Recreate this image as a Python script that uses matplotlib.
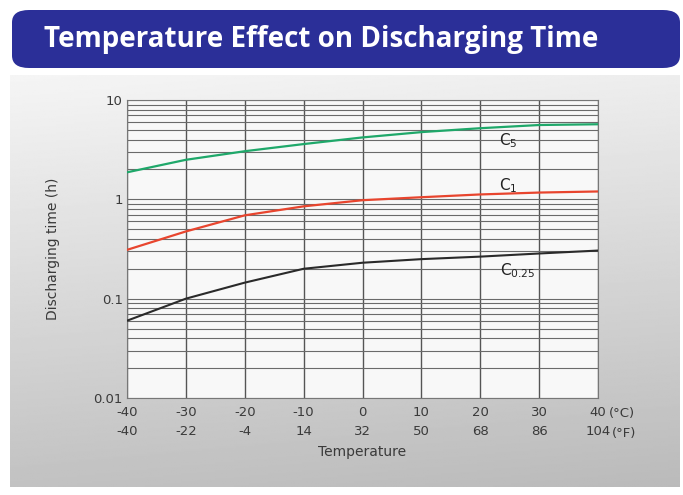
import matplotlib
matplotlib.use("Agg")
import matplotlib.pyplot as plt
import numpy as np
from matplotlib.patches import FancyBboxPatch
from matplotlib.ticker import LogLocator, NullFormatter

# Data
temp_c = [-40, -30, -20, -10, 0, 10, 20, 30, 40]
temp_f = [-40, -22, -4, 14, 32, 50, 68, 86, 104]
c5 = [1.87, 2.5, 3.05, 3.6, 4.2, 4.75, 5.2, 5.6, 5.7]
c1 = [0.31, 0.475, 0.69, 0.85, 0.98, 1.05, 1.12, 1.17, 1.2]
c025 = [0.06, 0.1, 0.145, 0.2, 0.23, 0.25, 0.265, 0.285, 0.305]
y_ticks = [0.01, 0.1, 1, 10]
y_labels = ["0.01", "0.1", "1", "10"]

W, H = 683, 495
fig = plt.figure(figsize=(W / 100, H / 100), dpi=100)
fig.patch.set_facecolor("white")

# Gray gradient panel behind the chart
bg = fig.add_axes([10 / W, 1 - 487 / H, 670 / W, (487 - 75) / H])
grad = np.linspace(0, 1, 256).reshape(-1, 1)
gx = np.linspace(0, 1, 256).reshape(1, -1)
shade = 0.96 - 0.2 * grad - 0.03 * gx
bg.imshow(shade, cmap="gray", vmin=0, vmax=1, aspect="auto",
          extent=[0, 1, 0, 1], origin="upper")
bg.axis("off")

# Blue title banner
banner = FancyBboxPatch((12 / W, 1 - 68 / H), 668 / W, 58 / H,
                        boxstyle="round,pad=0,rounding_size=0.025",
                        transform=fig.transFigure, facecolor="#2b2f98",
                        edgecolor="none", zorder=5)
fig.patches.append(banner)
fig.text(44 / W, 1 - 40 / H, "Temperature Effect on Discharging Time",
         color="white", fontsize=20, fontweight="bold", family="Open Sans",
         ha="left", va="center", zorder=6)

# Main plot
ax = fig.add_axes([127 / W, 1 - 398 / H, (598 - 127) / W, (398 - 100) / H])
ax.set_facecolor("#f8f8f8")
ax.set_yscale("log")
ax.set_xlim(-40, 40)
ax.set_ylim(0.01, 10)

ax.plot(temp_c, c5, color="#1fa86a", lw=1.6, zorder=3)
ax.plot(temp_c, c1, color="#e8452e", lw=1.6, zorder=3)
ax.plot(temp_c, c025, color="#2a2a2a", lw=1.5, zorder=3)

ax.set_yticks(y_ticks)
ax.set_yticklabels(y_labels)
ax.yaxis.set_minor_locator(LogLocator(base=10, subs=np.arange(2, 10)))
ax.yaxis.set_minor_formatter(NullFormatter())
ax.set_xticks(temp_c)
ax.set_xticklabels([f"{c}\n{f}" for c, f in zip(temp_c, temp_f)])
for lbl in ax.get_xticklabels():
    lbl.set_linespacing(1.55)

ax.grid(True, which="major", axis="x", color="#555555", lw=1.0, zorder=1)
ax.grid(True, which="both", axis="y", color="#6a6a6a", lw=0.8, zorder=1)
ax.tick_params(which="both", length=0)
ax.tick_params(axis="both", labelsize=9.5, colors="#3a3a3a")
ax.tick_params(axis="y", pad=3)
ax.tick_params(axis="x", pad=6)
for s in ax.spines.values():
    s.set_color("#777777")
    s.set_linewidth(0.8)

# Unit marks after the last tick labels
ax.annotate("(°C)", xy=(1, 0), xycoords="axes fraction", xytext=(8, -11.5),
            textcoords="offset points", fontsize=9.5, color="#3a3a3a",
            ha="left", va="center")
ax.annotate("(°F)", xy=(1, 0), xycoords="axes fraction", xytext=(10, -25.2),
            textcoords="offset points", fontsize=9.5, color="#3a3a3a",
            ha="left", va="center")

ax.set_xlabel("Temperature", fontsize=10, color="#3a3a3a", labelpad=5)
ax.set_ylabel("Discharging time (h)", fontsize=10, color="#3a3a3a", labelpad=24)

# Curve labels
ax.text(24.7, 3.9, "C$_5$", fontsize=11, color="#222222", ha="center", va="center")
ax.text(24.7, 1.38, "C$_1$", fontsize=11, color="#222222", ha="center", va="center")
ax.text(26.4, 0.19, "C$_{0.25}$", fontsize=11, color="#222222", ha="center", va="center")

fig.savefig("out.png", dpi=100)
